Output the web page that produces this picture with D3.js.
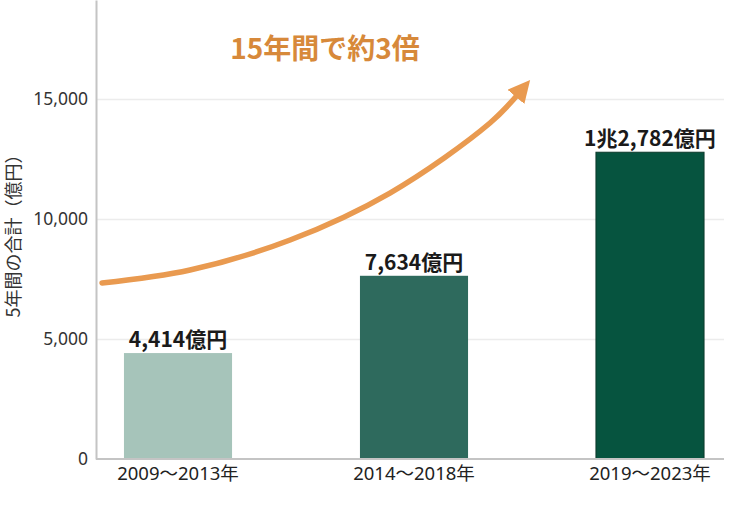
<!DOCTYPE html>
<html>
<head>
<meta charset="utf-8">
<script src="https://cdn.jsdelivr.net/npm/d3@7"></script>
<style>
  body { margin: 0; background: #fff; }
  svg { display: block; font-family: 'Noto Sans CJK JP', 'Noto Sans', sans-serif; }
</style>
</head>
<body>
<div id="chart"></div>
<script>
const categories = ['2009〜2013年', '2014〜2018年', '2019〜2023年'];
const values = [4414, 7634, 12782];
const valueLabels = ['4,414億円', '7,634億円', '1兆2,782億円'];
const barColors = ['#a6c4ba', '#2e6a5d', '#06543f'];
const yTicks = [0, 5000, 10000, 15000];
// arrow annotation, x in category-index units, y in data units
const arrowIdx = [-0.322, 0.051, 0.475, 0.898, 1.322, 1.45];
const arrowVal = [7333, 7875, 9125, 11083, 14000, 15300];

const width = 744;
const height = 511;
const plotLeft = 96, plotTop = 0, plotBottom = 459, gridEnd = 724;

const svg = d3.select('#chart')
  .append('svg')
  .attr('width', width)
  .attr('height', height);

const x = d3.scaleBand()
  .domain(categories)
  .range([98, 730])
  .paddingInner(0.542)
  .paddingOuter(0.11);

const y = d3.scaleLinear()
  .domain([0, 19125])
  .range([plotBottom, plotTop]);

// grid
svg.append('g')
  .attr('transform', `translate(${plotLeft},0)`)
  .call(d3.axisLeft(y).tickValues(yTicks.slice(1)).tickSize(-(gridEnd - plotLeft)).tickFormat(''))
  .call(g => g.select('.domain').remove())
  .call(g => g.selectAll('line').attr('stroke', '#ececec').attr('stroke-width', 1.5));

// bars
svg.selectAll('.bar')
  .data(values)
  .enter()
  .append('rect')
  .attr('class', 'bar')
  .attr('x', (d, i) => x(categories[i]))
  .attr('y', d => y(d))
  .attr('width', x.bandwidth())
  .attr('height', d => plotBottom - y(d))
  .attr('fill', (d, i) => barColors[i])
  .attr('stroke', (d, i) => i === 2 ? '#0b3a2b' : 'none')
  .attr('stroke-width', 1);

// value labels
svg.selectAll('.label')
  .data(values)
  .enter()
  .append('text')
  .attr('class', 'label')
  .attr('x', (d, i) => x(categories[i]) + x.bandwidth() / 2)
  .attr('y', d => y(d) - 6)
  .attr('text-anchor', 'middle')
  .style('font-size', '21px')
  .style('font-weight', 'bold')
  .style('fill', '#1a1a1a')
  .text((d, i) => valueLabels[i]);

// y axis
const yAxis = svg.append('g')
  .attr('transform', `translate(${plotLeft},0)`)
  .call(d3.axisLeft(y).tickValues(yTicks).tickSize(0).tickPadding(8).tickFormat(d3.format(',')));
yAxis.select('.domain').attr('stroke', '#c4c4c4').attr('stroke-width', 2);
yAxis.selectAll('text').style('font-size', '17.5px').style('fill', '#333')
  .style('font-family', "'Noto Sans', sans-serif");

// x axis
const xAxis = svg.append('g')
  .attr('transform', `translate(0,${plotBottom})`)
  .call(d3.axisBottom(x).tickSize(0).tickPadding(8));
xAxis.select('.domain').attr('d', `M${plotLeft},0H${gridEnd}`).attr('stroke', '#c4c4c4').attr('stroke-width', 2);
xAxis.selectAll('text').style('font-size', '18.5px').style('fill', '#222')
  .style('font-family', "'Noto Sans', 'Noto Sans CJK JP', sans-serif");

// y axis title
svg.append('text')
  .attr('transform', `translate(20,${plotBottom / 2 + 2}) rotate(-90)`)
  .attr('text-anchor', 'middle')
  .style('font-size', '18px')
  .style('fill', '#333')
  .text('5年間の合計（億円）');

// arrow annotation
const ix = d3.scaleLinear()
  .domain([0, 1])
  .range([x(categories[0]) + x.bandwidth() / 2, x(categories[1]) + x.bandwidth() / 2]);

const arrowPts = arrowIdx.map((d, i) => [ix(d), y(arrowVal[i])]);

svg.append('defs').append('marker')
  .attr('id', 'head')
  .attr('viewBox', '0 0 10 10')
  .attr('refX', 3)
  .attr('refY', 5)
  .attr('markerWidth', 4)
  .attr('markerHeight', 4)
  .attr('markerUnits', 'strokeWidth')
  .attr('orient', 'auto')
  .append('path')
  .attr('d', 'M0,0L10,5L0,10z')
  .attr('fill', '#e99a50');

svg.append('path')
  .attr('d', d3.line().curve(d3.curveCatmullRom)(arrowPts))
  .attr('fill', 'none')
  .attr('stroke', '#e99a50')
  .attr('stroke-width', 5.5)
  .attr('stroke-linecap', 'round')
  .attr('marker-end', 'url(#head)');

// annotation text
svg.append('text')
  .attr('x', 325)
  .attr('y', 59)
  .attr('text-anchor', 'middle')
  .style('font-size', '28px')
  .style('font-weight', 'bold')
  .style('fill', '#d7893a')
  .text('15年間で約3倍');
</script>
</body>
</html>
